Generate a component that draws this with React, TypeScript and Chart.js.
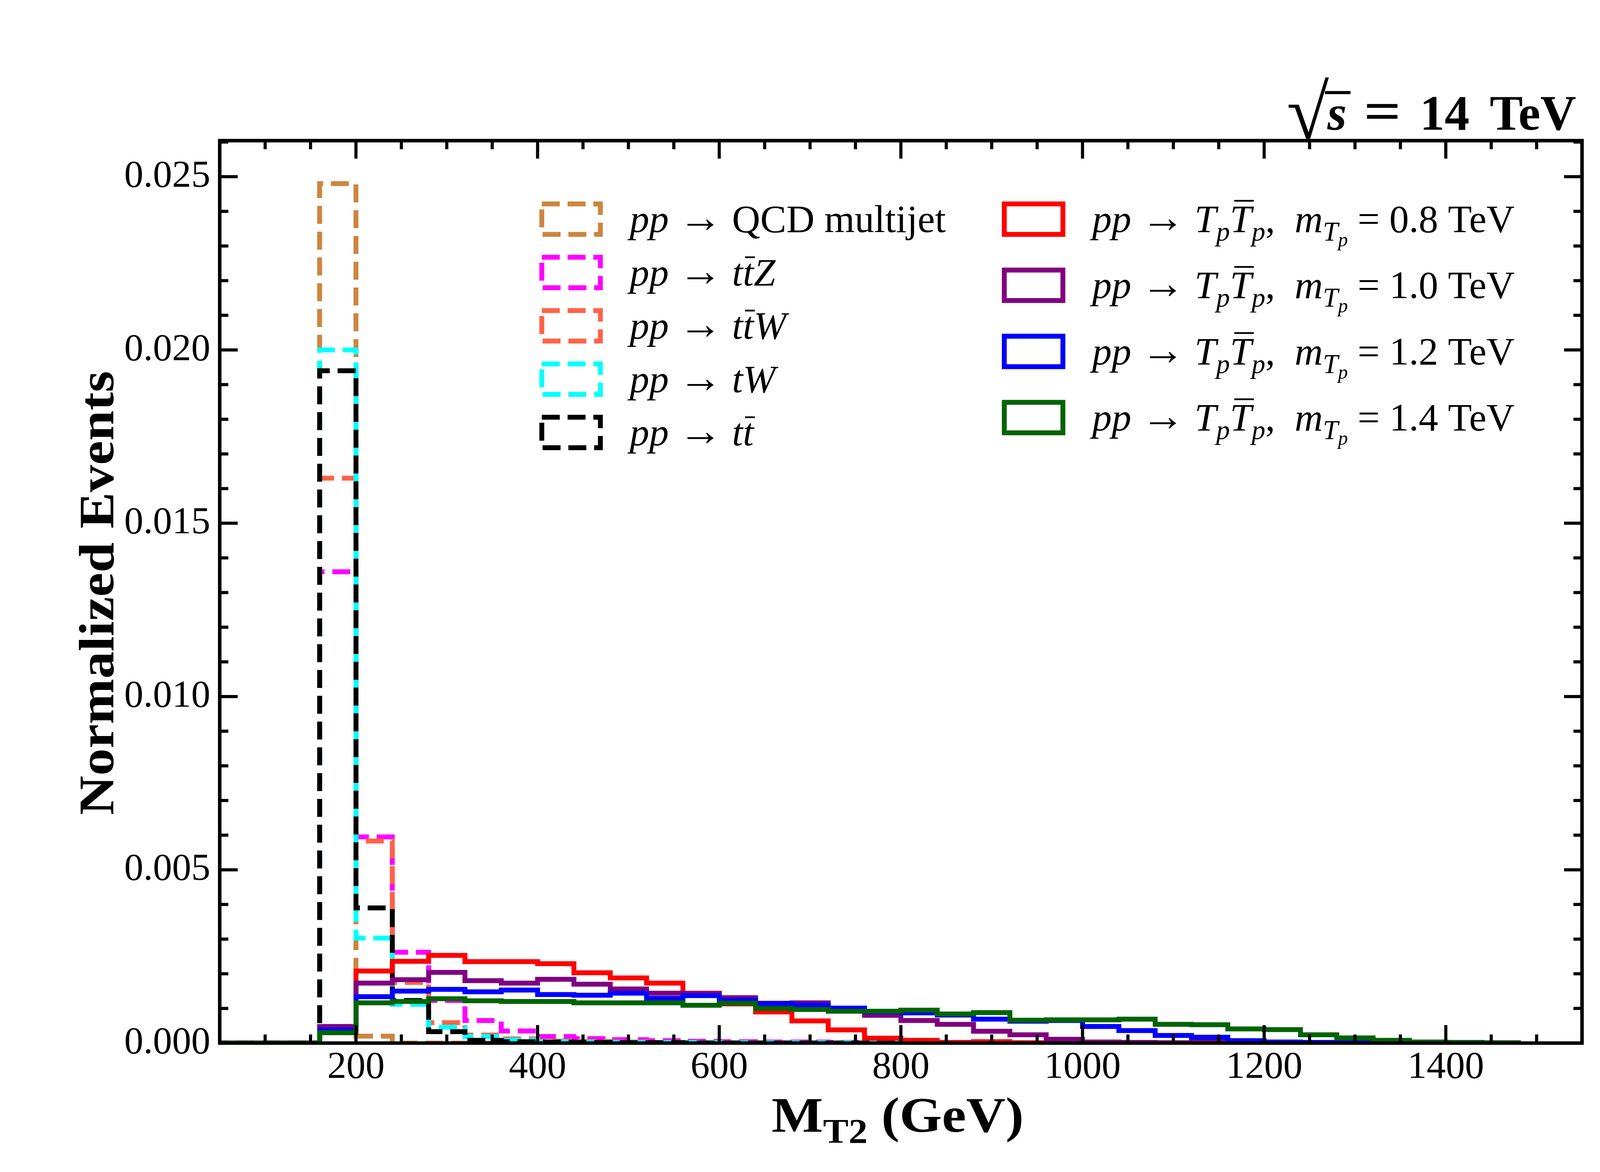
import React, { useEffect, useRef } from 'react';
import { Chart, registerables } from 'chart.js';

Chart.register(...registerables);

// ---------------- data ----------------
const BIN_EDGES = [
  0, 40, 80, 120, 160, 200, 240, 280, 320, 360,
  400, 440, 480, 520, 560, 600, 640, 680, 720, 760,
  800, 840, 880, 920, 960, 1000, 1040, 1080, 1120, 1160,
  1200, 1240, 1280, 1320, 1360, 1400, 1440, 1480,
];

const QCD_MULTIJET = [
  0, 0, 0, 0, 0.0248, 0.0002, 0, 0, 0, 0,
  0, 0, 0, 0, 0, 0, 0, 0, 0, 0,
  0, 0, 0, 0, 0, 0, 0, 0, 0, 0,
  0, 0, 0, 0, 0, 0, 0,
];
const TTZ = [
  0, 0, 0, 0, 0.0136, 0.00595, 0.00262, 0.00123, 0.00065, 0.00035,
  0.00019, 0.00013, 0.0001, 0.00007, 0.00005, 0.00004, 0.00003, 0.00003, 0.00002, 0.00002,
  0.00001, 0.00001, 0, 0, 0, 0, 0, 0, 0, 0,
  0, 0, 0, 0, 0, 0, 0,
];
const TTW = [
  0, 0, 0, 0, 0.0163, 0.00583, 0.00175, 0.00059, 0.00023, 0.00012,
  0.00006, 0.00005, 0.00003, 0.00002, 0.00002, 0.00001, 0.00001, 0.00001, 0, 0,
  0, 0, 0, 0, 0, 0, 0, 0, 0, 0,
  0, 0, 0, 0, 0, 0, 0,
];
const TW = [
  0, 0, 0, 0, 0.02, 0.00303, 0.00112, 0.00046, 0.00019, 0.00009,
  0.00004, 0.00003, 0.00002, 0.00002, 0.00002, 0.00001, 0.00001, 0.00001, 0.00001, 0.00001,
  0, 0, 0, 0, 0, 0, 0, 0, 0, 0,
  0, 0, 0, 0, 0, 0, 0,
];
const TTBAR = [
  0, 0, 0, 0, 0.0194, 0.0039, 0.00123, 0.00033, 0.00008, 0.00004,
  0.00003, 0.00002, 0.00001, 0.00001, 0, 0, 0, 0, 0, 0,
  0, 0, 0, 0, 0, 0, 0, 0, 0, 0,
  0, 0, 0, 0, 0, 0, 0,
];
const SIG_08 = [
  0, 0, 0, 0, 0.0004, 0.00208, 0.00236, 0.00253, 0.00235, 0.00235,
  0.00229, 0.00203, 0.00188, 0.00173, 0.00144, 0.00113, 0.0009, 0.00064, 0.00038, 0.00014,
  0.00008, 0.00002, 0.00004, 0.00001, 0, 0, 0, 0, 0, 0,
  0, 0, 0, 0, 0, 0, 0,
];
const SIG_10 = [
  0, 0, 0, 0, 0.00048, 0.00173, 0.00183, 0.00204, 0.0018, 0.00173,
  0.00184, 0.0017, 0.00156, 0.00144, 0.00143, 0.00131, 0.00115, 0.00116, 0.00096, 0.0008,
  0.00065, 0.00054, 0.00034, 0.00024, 0.00011, 0.00003, 0.00002, 0.00001, 0.00003, 0,
  0, 0, 0, 0, 0, 0, 0,
];
const SIG_12 = [
  0, 0, 0, 0, 0.00038, 0.00134, 0.0015, 0.00155, 0.00148, 0.00153,
  0.0014, 0.00138, 0.00144, 0.00129, 0.00137, 0.00124, 0.00114, 0.0011, 0.00101, 0.0009,
  0.00087, 0.00081, 0.00069, 0.00063, 0.00065, 0.00048, 0.00036, 0.00022, 0.00017, 0.00007,
  0.00003, 0.00002, 0.00001, 0, 0, 0, 0,
];
const SIG_14 = [
  0, 0, 0, 0, 0.0003, 0.00116, 0.0012, 0.00128, 0.00122, 0.0012,
  0.0012, 0.00116, 0.00116, 0.00116, 0.00109, 0.00115, 0.001, 0.00097, 0.00092, 0.00092,
  0.00095, 0.00084, 0.00088, 0.00066, 0.00067, 0.00067, 0.00069, 0.00054, 0.00053, 0.00041,
  0.00039, 0.00024, 0.00015, 0.00008, 0.00003, 0.00002, 0.00001,
];

const SIGNAL_MASSES = ['0.8', '1.0', '1.2', '1.4'];

const X_TICKS = [200, 400, 600, 800, 1000, 1200, 1400];
const X_TICK_LABELS = ['200', '400', '600', '800', '1000', '1200', '1400'];
const Y_TICKS = [0, 0.005, 0.01, 0.015, 0.02, 0.025];
const Y_TICK_LABELS = ['0.000', '0.005', '0.010', '0.015', '0.020', '0.025'];

const X_MIN = 50;
const X_MAX = 1550;
const Y_MIN = 0;
const Y_MAX = 0.02604;
const X_MINOR_STEP = 50;
const Y_MINOR_STEP = 0.001;

// ---------------- styles ----------------
const FONT = '"Liberation Serif", "Times New Roman", serif';
const LW = 12.5;
const DASH = [46, 20];

const BKG_SERIES = [
  { data: QCD_MULTIJET, color: '#CD853F' },
  { data: TTZ, color: '#FF00FF' },
  { data: TTW, color: '#FF6347' },
  { data: TW, color: '#00FFFF' },
  { data: TTBAR, color: '#000000' },
];
const SIG_SERIES = [
  { data: SIG_08, color: '#FF0000' },
  { data: SIG_10, color: '#800080' },
  { data: SIG_12, color: '#0000FF' },
  { data: SIG_14, color: '#006400' },
];

type Seg = { t: string; it?: boolean; b?: boolean; lvl?: number; bar?: number; k?: number };

const SP: Seg = { t: ' ' };
const ARR: Seg = { t: '\u2192', k: 1.12 };
const BKG_LEGEND: Seg[][] = [
  [{ t: 'pp', it: true }, SP, ARR, SP, { t: 'QCD multijet' }],
  [{ t: 'pp', it: true }, SP, ARR, SP, { t: 't', it: true }, { t: 't', it: true, bar: 0.72 }, { t: 'Z', it: true }],
  [{ t: 'pp', it: true }, SP, ARR, SP, { t: 't', it: true }, { t: 't', it: true, bar: 0.72 }, { t: 'W', it: true }],
  [{ t: 'pp', it: true }, SP, ARR, SP, { t: 't', it: true }, { t: 'W', it: true }],
  [{ t: 'pp', it: true }, SP, ARR, SP, { t: 't', it: true }, { t: 't', it: true, bar: 0.72 }],
];
const sigLegend = (m: string): Seg[] => [
  { t: 'pp', it: true }, SP, ARR, SP,
  { t: 'T', it: true }, { t: 'p', it: true, lvl: 1 },
  { t: 'T', it: true, bar: 0.8 }, { t: 'p', it: true, lvl: 1 },
  { t: ',  ' },
  { t: 'm', it: true }, { t: 'T', it: true, lvl: 1 }, { t: 'p', it: true, lvl: 2 },
  { t: ' = ' + m + ' TeV' },
];

// ---------------- text helpers ----------------
function segFont(s: Seg, size: number) {
  const k = (s.lvl === 1 ? 0.7 : s.lvl === 2 ? 0.5 : 1) * (s.k ?? 1);
  return `${s.it ? 'italic ' : ''}${s.b ? 'bold ' : ''}${(size * k).toFixed(1)}px ${FONT}`;
}
function segDy(s: Seg, size: number) {
  return s.lvl === 1 ? 0.22 * size : s.lvl === 2 ? 0.36 * size : 0;
}
function richWidth(ctx: CanvasRenderingContext2D, segs: Seg[], size: number) {
  let w = 0;
  for (const s of segs) {
    ctx.font = segFont(s, size);
    w += ctx.measureText(s.t).width;
  }
  return w;
}
function drawRich(
  ctx: CanvasRenderingContext2D, segs: Seg[], x: number, y: number, size: number,
  align: 'left' | 'right' | 'center' = 'left', stretch = 1,
) {
  const total = richWidth(ctx, segs, size) * stretch;
  const x0 = align === 'left' ? x : align === 'right' ? x - total : x - total / 2;
  ctx.save();
  ctx.translate(x0, y);
  ctx.scale(stretch, 1);
  ctx.textAlign = 'left';
  ctx.textBaseline = 'alphabetic';
  ctx.fillStyle = '#000';
  ctx.strokeStyle = '#000';
  let px = 0;
  for (const s of segs) {
    ctx.font = segFont(s, size);
    const w = ctx.measureText(s.t).width;
    const dy = segDy(s, size);
    ctx.fillText(s.t, px, dy);
    if (s.bar) {
      ctx.lineWidth = 0.045 * size;
      ctx.beginPath();
      ctx.moveTo(px + 0.2 * w, dy - s.bar * size);
      ctx.lineTo(px + 1.1 * w, dy - s.bar * size);
      ctx.stroke();
    }
    px += w;
  }
  ctx.restore();
}

// ---------------- plugin ----------------
const decor = {
  id: 'decor',
  afterDraw(chart: any) {
    const ctx: CanvasRenderingContext2D = chart.ctx;
    const { left, right, top, bottom } = chart.chartArea;
    const xs = chart.scales.x;
    const ys = chart.scales.y;
    ctx.save();
    ctx.setLineDash([]);
    ctx.strokeStyle = '#000';
    ctx.lineCap = 'butt';

    // ticks (inward, all four sides)
    ctx.lineWidth = 8;
    const tick = (x1: number, y1: number, x2: number, y2: number) => {
      ctx.beginPath(); ctx.moveTo(x1, y1); ctx.lineTo(x2, y2); ctx.stroke();
    };
    const MAJ = 46, MIN = 22;
    for (let v = X_MIN; v <= X_MAX + 1e-9; v += X_MINOR_STEP) {
      if (X_TICKS.includes(v)) continue;
      const p = xs.getPixelForValue(v);
      tick(p, bottom, p, bottom - MIN); tick(p, top, p, top + MIN);
    }
    for (const v of X_TICKS) {
      const p = xs.getPixelForValue(v);
      tick(p, bottom, p, bottom - MAJ); tick(p, top, p, top + MAJ);
    }
    for (let i = 0; Y_MIN + i * Y_MINOR_STEP <= Y_MAX; i++) {
      const v = Y_MIN + i * Y_MINOR_STEP;
      if (Y_TICKS.some((t) => Math.abs(t - v) < 1e-9)) continue;
      const p = ys.getPixelForValue(v);
      tick(left, p, left + MIN, p); tick(right, p, right - MIN, p);
    }
    for (const v of Y_TICKS) {
      const p = ys.getPixelForValue(v);
      tick(left, p, left + MAJ, p); tick(right, p, right - MAJ, p);
    }

    // frame
    ctx.lineWidth = 9;
    ctx.strokeRect(left, top, right - left, bottom - top);

    // legend – backgrounds
    const HW = 150, HH = 78;
    BKG_SERIES.forEach((s, i) => {
      const cy = 561 + i * 136.5;
      ctx.lineWidth = LW;
      ctx.setLineDash(DASH);
      ctx.lineJoin = 'miter';
      ctx.strokeStyle = s.color;
      ctx.strokeRect(1387, cy - HH / 2, HW, HH);
      ctx.setLineDash([]);
      drawRich(ctx, BKG_LEGEND[i], 1612, cy + 33, 100);
    });
    // legend – signals
    SIG_SERIES.forEach((s, i) => {
      const cy = 561 + i * 169.3;
      ctx.lineWidth = LW;
      ctx.setLineDash([]);
      ctx.lineJoin = 'miter';
      ctx.strokeStyle = s.color;
      ctx.strokeRect(2571, cy - HH / 2, HW, HH);
      drawRich(ctx, sigLegend(SIGNAL_MASSES[i]), 2796, cy + 33, 100);
    });

    // title  sqrt(s) = 14 TeV  (right aligned above the frame)
    ctx.fillStyle = '#000';
    ctx.strokeStyle = '#000';
    ctx.textBaseline = 'alphabetic';
    ctx.textAlign = 'left';
    const TS = 127;
    const base = 332;
    ctx.font = `bold ${TS}px ${FONT}`;
    const wTeV = ctx.measureText('TeV').width;
    const xTeV = 4035 - wTeV;
    ctx.fillText('TeV', xTeV, base);
    const w14 = ctx.measureText('14').width;
    const x14 = xTeV - 52 - w14;
    ctx.fillText('14', x14, base);
    ctx.font = `bold ${TS * 1.1}px ${FONT}`;
    const wEq = ctx.measureText('=').width;
    const xEq = x14 - 48 - wEq * 1.2;
    ctx.save(); ctx.translate(xEq, base); ctx.scale(1.2, 1); ctx.fillText('=', 0, 0); ctx.restore();
    ctx.font = `italic bold ${TS}px ${FONT}`;
    const wS = ctx.measureText('s').width;
    const xS = xEq - 44 - wS;
    ctx.fillText('s', xS, base);
    ctx.font = `${TS * 1.55}px ${FONT}`;
    const wR = ctx.measureText('\u221A').width;
    const xR = xS - wR + 4;
    ctx.fillText('\u221A', xR, base + 22);
    ctx.lineWidth = 8;
    ctx.beginPath();
    ctx.moveTo(xR + wR - 10, 237);
    ctx.lineTo(xS + wS + 10, 237);
    ctx.stroke();

    // x-axis title
    drawRich(ctx, [{ t: 'M', b: true }, { t: 'T2', b: true, lvl: 1 }, { t: ' (GeV)', b: true }], 2298, 2897, 127, 'center', 1.1);

    // y-axis title
    ctx.save();
    ctx.translate(290, 1518);
    ctx.rotate(-Math.PI / 2);
    drawRich(ctx, [{ t: 'Normalized Events', b: true }], 0, 0, 127, 'center', 1.1);
    ctx.restore();

    ctx.restore();
  },
};

function toPoints(vals: number[]) {
  return BIN_EDGES.map((e, i) => ({ x: e, y: i < vals.length ? vals[i] : 0 }));
}

export default function App() {
  const ref = useRef<HTMLCanvasElement>(null);
  useEffect(() => {
    const canvas = ref.current;
    if (!canvas) return;
    const sig = SIG_SERIES.map((s) => ({
      data: toPoints(s.data), borderColor: s.color, borderWidth: LW, borderDash: [] as number[],
    }));
    const bkg = BKG_SERIES.map((s) => ({
      data: toPoints(s.data), borderColor: s.color, borderWidth: LW, borderDash: DASH,
    }));
    // Chart.js draws dataset 0 last (on top): put later-drawn series first
    const datasets = [...sig.reverse(), ...bkg.reverse()].map((d) => ({
      ...d,
      stepped: 'before' as const,
      pointRadius: 0,
      fill: false,
      tension: 0,
      borderCapStyle: 'butt' as const,
      borderJoinStyle: 'miter' as const,
      clip: 0,
    }));
    const chart = new Chart(canvas, {
      type: 'line',
      data: { datasets },
      options: {
        animation: false,
        responsive: false,
        devicePixelRatio: 1,
        events: [],
        layout: { padding: { left: 0, right: 450, top: 360, bottom: 0 } },
        plugins: { legend: { display: false }, tooltip: { enabled: false }, title: { display: false } },
        scales: {
          x: {
            type: 'linear',
            min: X_MIN,
            max: X_MAX,
            grid: { display: false, drawTicks: false },
            border: { display: false },
            afterBuildTicks: (s: any) => { s.ticks = X_TICKS.map((v) => ({ value: v })); },
            afterFit: (s: any) => { s.height = 330; },
            ticks: {
              autoSkip: false,
              maxRotation: 0,
              padding: 4,
              color: '#000',
              font: { family: FONT, size: 98 },
              callback: (v: any) => X_TICK_LABELS[X_TICKS.indexOf(Number(v))] ?? '',
            },
          },
          y: {
            type: 'linear',
            min: Y_MIN,
            max: Y_MAX,
            grid: { display: false, drawTicks: false },
            border: { display: false },
            afterBuildTicks: (s: any) => { s.ticks = Y_TICKS.map((v) => ({ value: v })); },
            afterFit: (s: any) => { s.width = 562.5; },
            ticks: {
              autoSkip: false,
              padding: 24,
              color: '#000',
              font: { family: FONT, size: 98 },
              callback: (v: any) => {
                const i = Y_TICKS.findIndex((t) => Math.abs(t - Number(v)) < 1e-9);
                return i >= 0 ? Y_TICK_LABELS[i] : '';
              },
            },
          },
        },
      },
      plugins: [decor],
    } as any);
    return () => chart.destroy();
  }, []);
  return (
    <div style={{ position: 'absolute', left: 0, top: 0, width: 4500, height: 3000, background: '#fff' }}>
      <canvas ref={ref} width={4500} height={3000} style={{ width: '4500px', height: '3000px', display: 'block' }} />
    </div>
  );
}
